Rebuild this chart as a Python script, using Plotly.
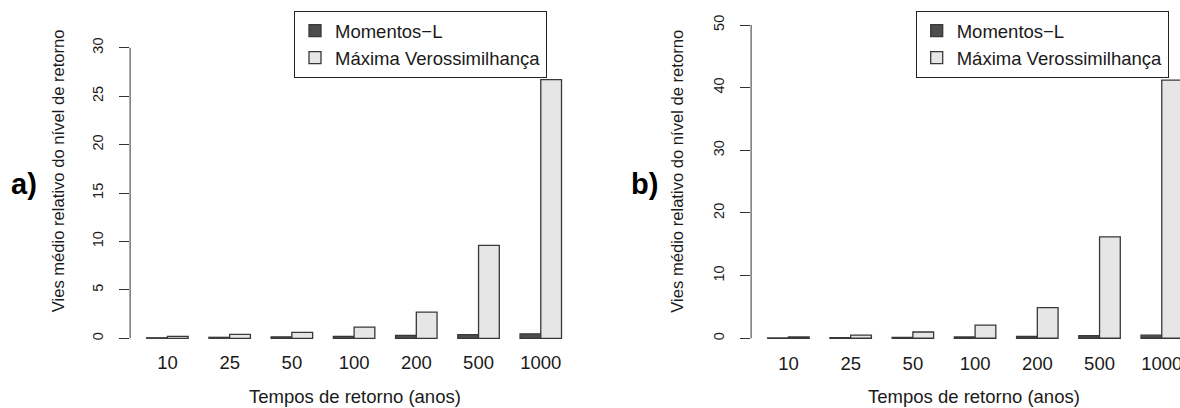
import plotly.graph_objects as go

# ---------------- data ----------------
return_periods = ["10", "25", "50", "100", "200", "500", "1000"]
lmom_a = [0.05, 0.1, 0.15, 0.2, 0.3, 0.37, 0.45]
mle_a = [0.2, 0.4, 0.6, 1.15, 2.7, 9.6, 26.7]
lmom_b = [0.05, 0.1, 0.15, 0.2, 0.3, 0.4, 0.5]
mle_b = [0.2, 0.5, 1.0, 2.1, 4.9, 16.2, 41.2]
yticks_a = [0, 5, 10, 15, 20, 25, 30]
yticks_b = [0, 10, 20, 30, 40, 50]
series_names = ["Momentos\u2212L", "Máxima Verossimilhança"]
panel_labels = ["a)", "b)"]
x_title = "Tempos de retorno (anos)"
y_title = "Vies médio relativo do nível de retorno"

# ---------------- layout helpers ----------------
W, H = 1180, 408
FONT = "Liberation Sans, Arial, Helvetica, sans-serif"
TXT = "#1a1a1a"
AX = "#333333"
DARK, LIGHT, EDGE = "#4d4d4d", "#e6e6e6", "#383838"


def fx(p):
    return p / W


def fy(p):
    return 1 - p / H


fig = go.Figure()

panels = [
    dict(lm=lmom_a, ml=mle_a, xa="x", ya="y", leg="legend"),
    dict(lm=lmom_b, ml=mle_b, xa="x2", ya="y2", leg="legend2"),
]
for p in panels:
    fig.add_trace(go.Bar(x=return_periods, y=p["lm"], name=series_names[0],
                         marker=dict(color=DARK, line=dict(color=EDGE, width=1.3)),
                         xaxis=p["xa"], yaxis=p["ya"], legend=p["leg"]))
    fig.add_trace(go.Bar(x=return_periods, y=p["ml"], name=series_names[1],
                         marker=dict(color=LIGHT, line=dict(color=EDGE, width=1.3)),
                         xaxis=p["xa"], yaxis=p["ya"], legend=p["leg"]))

xcommon = dict(type="category", showline=False, showgrid=False, zeroline=False,
               ticks="", tickfont=dict(family=FONT, size=18.5, color=TXT),
               ticklabelstandoff=0)
ycommon = dict(showline=False, showgrid=False, zeroline=False, ticks="outside",
               ticklen=10, tickwidth=1, tickcolor=AX, tickangle=-90,
               tickfont=dict(family=FONT, size=14.5, color=TXT), ticklabelstandoff=10)

fig.update_layout(
    width=W, height=H,
    margin=dict(l=0, r=0, t=0, b=0, autoexpand=False),
    paper_bgcolor="white", plot_bgcolor="white",
    barmode="group", bargap=1 / 3, bargroupgap=0,
    xaxis=dict(xcommon, domain=[fx(130.1), fx(578.1)], range=[-0.6, 6.6], anchor="y"),
    yaxis=dict(ycommon, domain=[fy(349.9), fy(36.1)], range=[-1.2, 31.2],
               tickvals=yticks_a, anchor="x"),
    xaxis2=dict(xcommon, domain=[fx(751.1), 1.0], range=[-0.6, 6.293], anchor="y2"),
    yaxis2=dict(ycommon, domain=[fy(350.8), fy(12.5)], range=[-2, 52],
                tickvals=yticks_b, anchor="x2"),
    legend=dict(x=fx(294), y=fy(11), xanchor="left", yanchor="top",
                bordercolor="#222222", borderwidth=1, bgcolor="white",
                font=dict(family=FONT, size=18.5, color=TXT)),
    legend2=dict(x=fx(915.7), y=fy(11), xanchor="left", yanchor="top",
                 bordercolor="#222222", borderwidth=1, bgcolor="white",
                 font=dict(family=FONT, size=18.5, color=TXT)),
    showlegend=True,
)

# axis lines spanning only the tick range (R style)
for ya, xa, top in [("y", "x", yticks_a[-1]), ("y2", "x2", yticks_b[-1])]:
    fig.add_shape(type="line", xref=f"{xa} domain", yref=ya, x0=0, x1=0,
                  y0=0, y1=top, line=dict(color=AX, width=1))

# titles and panel labels
ann = []
for cx in [354.5, 974]:
    ann.append(dict(text=x_title, x=fx(cx), y=fy(396.7), xref="paper", yref="paper",
                    showarrow=False, xanchor="center", yanchor="middle",
                    font=dict(family=FONT, size=18.5, color=TXT)))
for cx in [58.3, 676.7]:
    ann.append(dict(text=y_title, x=fx(cx), y=fy(171), xref="paper", yref="paper",
                    showarrow=False, xanchor="center", yanchor="middle", textangle=-90,
                    font=dict(family=FONT, size=16.6, color=TXT)))
for lab, cx in zip(panel_labels, [24, 644.5]):
    ann.append(dict(text=f"<b>{lab}</b>", x=fx(cx), y=fy(184.5), xref="paper", yref="paper",
                    showarrow=False, xanchor="center", yanchor="middle",
                    font=dict(family=FONT, size=29, color="#000000")))
fig.update_layout(annotations=ann)

fig.write_html("out.html")
